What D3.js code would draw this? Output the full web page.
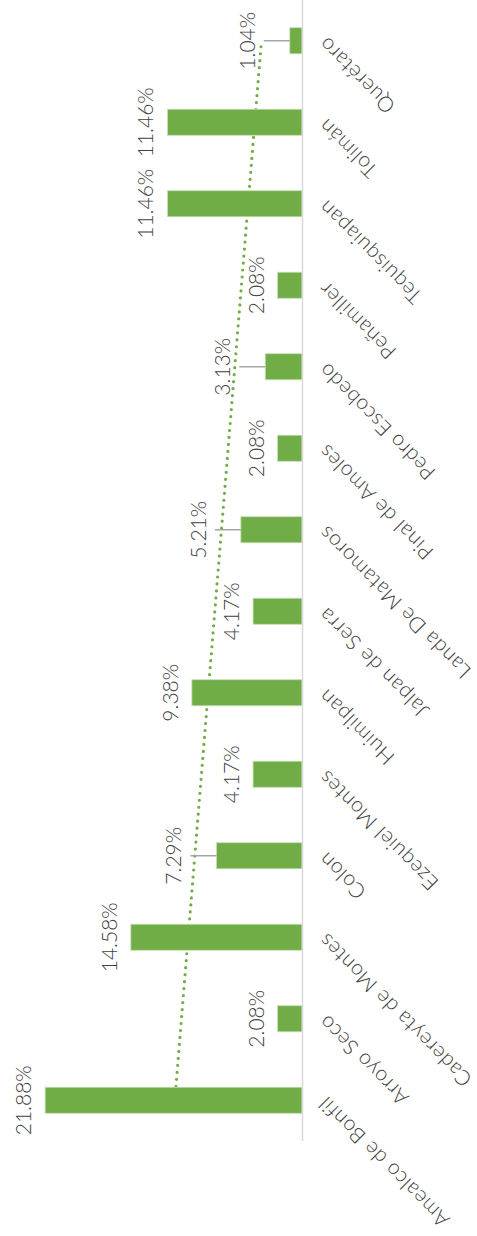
<!DOCTYPE html>
<html>
<head>
<meta charset="utf-8">
<script src="https://cdn.jsdelivr.net/npm/d3@7"></script>
<style>
  html, body { margin: 0; padding: 0; background: #fff; }
  svg { display: block; }
  text { font-family: Lato, "Open Sans", sans-serif; font-weight: 300; fill: #404040; }
</style>
</head>
<body>
<svg id="chart" width="477" height="1236"></svg>
<script>
// Categories in original chart order (first category at the bottom of the rotated chart)
const categories = [
  "Amealco de Bonfil", "Arroyo Seco", "Cadereyta de Montes", "Colon",
  "Ezequiel Montes", "Huimilpan", "Jalpan de Serra", "Landa De Matamoros",
  "Pinal de Amoles", "Pedro Escobedo", "Peñamiller", "Tequisquiapan",
  "Tolimán", "Querétaro"
];
const values = [21.88, 2.08, 14.58, 7.29, 4.17, 9.38, 4.17, 5.21, 2.08, 3.13, 2.08, 11.46, 11.46, 1.04];
const valueLabels = ["21.88%", "2.08%", "14.58%", "7.29%", "4.17%", "9.38%", "4.17%", "5.21%", "2.08%", "3.13%", "2.08%", "11.46%", "11.46%", "1.04%"];
// Data labels that were moved away from the bar and joined to it by a leader line
const leaderLabels = ["Querétaro", "Pedro Escobedo", "Landa De Matamoros", "Colon"];

const data = categories.map((c, i) => ({ cat: c, value: values[i], label: valueLabels[i], idx: i + 1 }));

const svg = d3.select("#chart");
const axisX = 302;

const y = d3.scaleBand()
  .domain(categories)
  .range([1141, 0])
  .paddingInner(0.68)
  .paddingOuter(0.34);

const x = d3.scaleLinear().domain([0, 25]).range([axisX, 8.5]);

const green = "#70AD47";

// Linear trendline (least squares over category index)
const n = data.length;
const mx = d3.mean(data, d => d.idx), my = d3.mean(data, d => d.value);
const sxy = d3.sum(data, d => (d.idx - mx) * (d.value - my));
const sxx = d3.sum(data, d => (d.idx - mx) ** 2);
const slope = sxy / sxx, intercept = my - slope * mx;
const trend = data.map(d => ({ cat: d.cat, v: intercept + slope * d.idx }));

svg.append("path")
  .datum([trend[0], trend[n - 1]])
  .attr("fill", "none")
  .attr("stroke", green)
  .attr("stroke-width", 3.2)
  .attr("stroke-linecap", "round")
  .attr("stroke-dasharray", "0 7")
  .attr("d", d3.line().x(d => x(d.v)).y(d => y(d.cat) + y.bandwidth() / 2));

// Bars
svg.append("g").selectAll("rect")
  .data(data)
  .join("rect")
  .attr("x", d => x(d.value))
  .attr("y", d => y(d.cat))
  .attr("width", d => x(0) - x(d.value))
  .attr("height", y.bandwidth())
  .attr("fill", green)
  .attr("stroke", "#c9dfbb")
  .attr("stroke-width", 0.8);

// Category axis line
svg.append("line")
  .attr("x1", axisX + 0.5).attr("x2", axisX + 0.5)
  .attr("y1", 0).attr("y2", 1141)
  .attr("stroke", "#d9d9d9")
  .attr("stroke-width", 1.5);

// Category labels
svg.append("g").selectAll("text")
  .data(data)
  .join("text")
  .attr("transform", d => `translate(${axisX + 20},${y(d.cat) + y.bandwidth() / 2}) rotate(-135)`)
  .attr("text-anchor", "end")
  .attr("dy", "0.35em")
  .attr("font-size", 21)
  .attr("letter-spacing", 0.6)
  .text(d => d.cat);

// Leader lines
const isLeader = d => leaderLabels.includes(d.cat);
const labelBase = d => x(d.value) - (isLeader(d) ? 35 : 14);

svg.append("g").selectAll("line")
  .data(data.filter(isLeader))
  .join("line")
  .attr("x1", d => labelBase(d) + 9)
  .attr("x2", d => x(d.value))
  .attr("y1", d => y(d.cat) + y.bandwidth() / 2)
  .attr("y2", d => y(d.cat) + y.bandwidth() / 2)
  .attr("stroke", "#a6a6a6")
  .attr("stroke-width", 1.5);

// Data labels
svg.append("g").selectAll("text")
  .data(data)
  .join("text")
  .attr("transform", d => `translate(${labelBase(d)},${y(d.cat) + y.bandwidth() / 2}) rotate(-90)`)
  .attr("text-anchor", "middle")
  .attr("font-size", 21)
  .text(d => d.label);
</script>
</body>
</html>
